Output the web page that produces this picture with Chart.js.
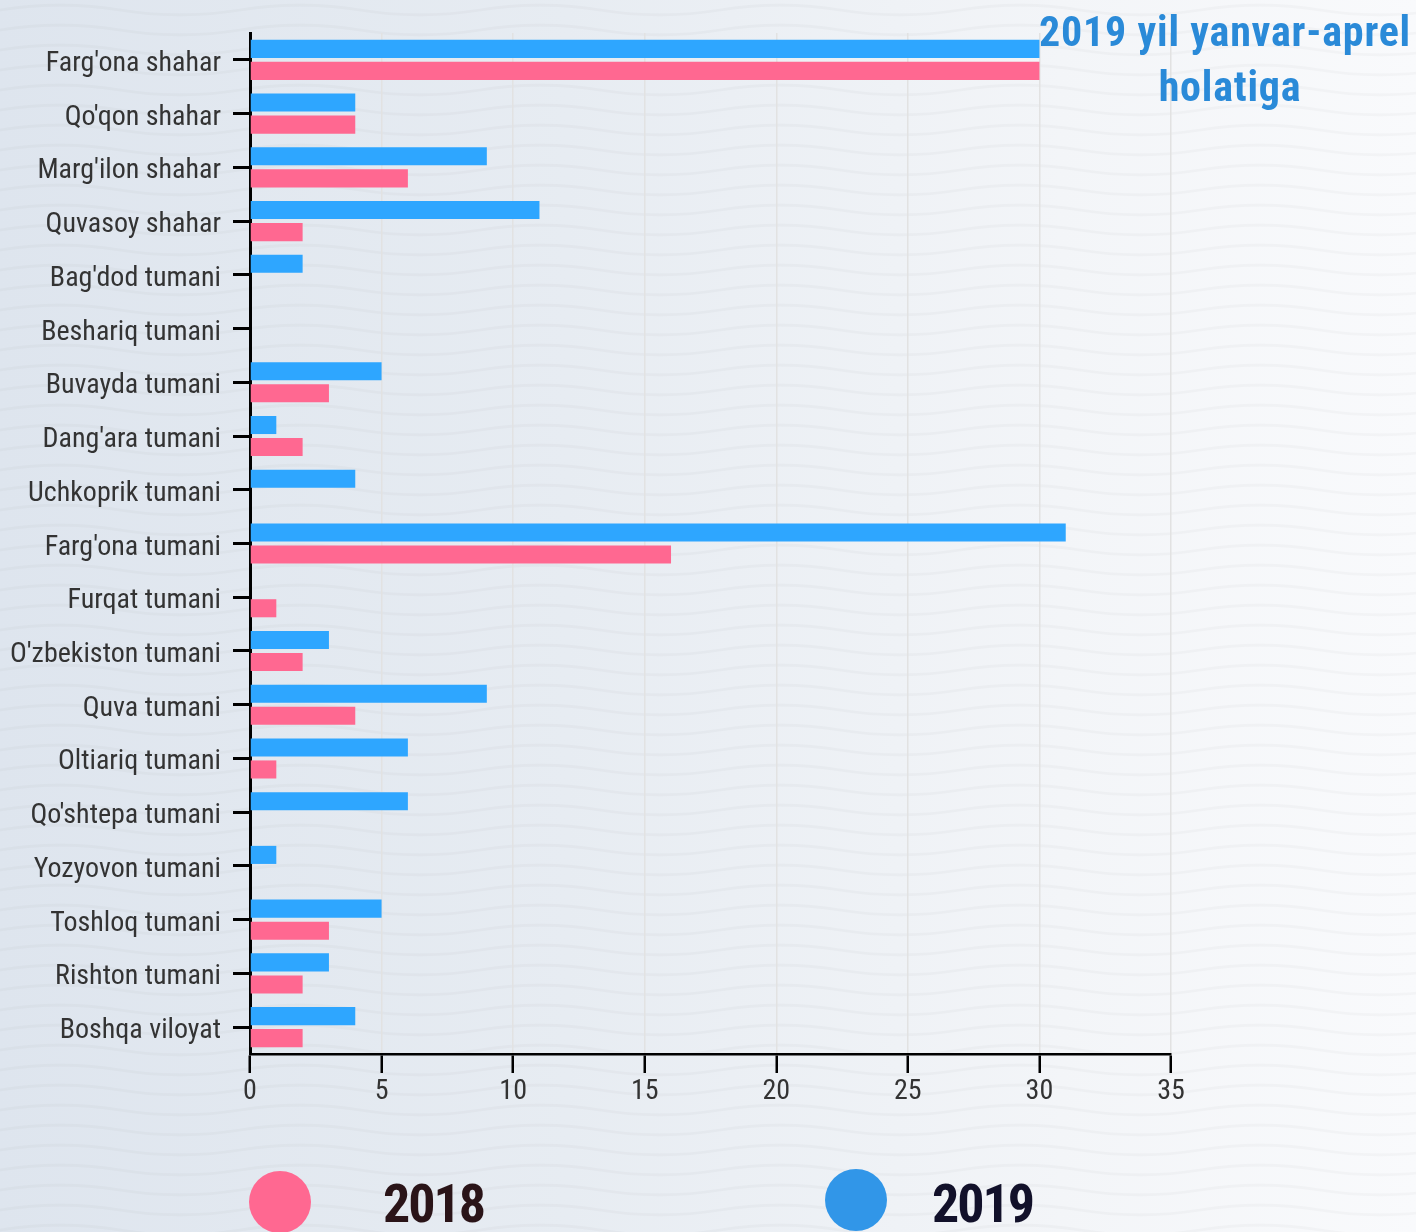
<!DOCTYPE html>
<html>
<head>
<meta charset="utf-8">
<script src="https://cdn.jsdelivr.net/npm/chart.js@4/dist/chart.umd.min.js"></script>
<style>
  html, body { margin: 0; padding: 0; }
  body {
    width: 1416px; height: 1232px; overflow: hidden;
    background-color: #e9edf3;
    background-image:
      url("data:image/svg+xml;utf8,<svg xmlns='http://www.w3.org/2000/svg' width='240' height='20'><path d='M-1 10.2 L0 10 C40 3.5 80 3.5 120 10 S200 16.5 240 10 L241 9.8' fill='none' stroke='rgba(0,0,0,0.024)' stroke-width='2.5'/></svg>"),
      linear-gradient(90deg, #dee5ee 0%, #e7ecf2 40%, #f3f5f8 75%, #f9fafc 100%);
    background-repeat: repeat, no-repeat;
  }
  canvas { display: block; }
</style>
</head>
<body>
<canvas id="c" width="1416" height="1232"></canvas>
<script>
const categories = [
  "Farg'ona shahar", "Qo'qon shahar", "Marg'ilon shahar", "Quvasoy shahar",
  "Bag'dod tumani", "Beshariq tumani", "Buvayda tumani", "Dang'ara tumani",
  "Uchkoprik tumani", "Farg'ona tumani", "Furqat tumani", "O'zbekiston tumani",
  "Quva tumani", "Oltiariq tumani", "Qo'shtepa tumani", "Yozyovon tumani",
  "Toshloq tumani", "Rishton tumani", "Boshqa viloyat"
];
const values2019 = [30, 4, 9, 11, 2, 0, 5, 1, 4, 31, 0, 3, 9, 6, 6, 1, 5, 3, 4];
const values2018 = [30, 4, 6, 2, 0, 0, 3, 2, 0, 16, 1, 2, 4, 1, 0, 0, 3, 2, 2];
const seriesNames = ["2019", "2018"];
const titleLines = ["2019 yil yanvar-aprel", "holatiga"];
const xTicks = [0, 5, 10, 15, 20, 25, 30, 35];

const COND = "'Roboto Condensed', 'Liberation Sans Narrow', 'DejaVu Sans Condensed', Roboto, sans-serif";

const overlay = {
  id: 'overlay',
  afterDraw(chart) {
    const ctx = chart.ctx;
    ctx.save();
    // title
    ctx.fillStyle = '#2a8ad8';
    ctx.font = "bold 42px " + COND;
    ctx.letterSpacing = '0.8px';
    ctx.textAlign = 'center';
    ctx.textBaseline = 'alphabetic';
    ctx.fillText(titleLines[0], 1225, 46);
    ctx.fillText(titleLines[1], 1230, 101);
    // legend
    const items = [
      { label: seriesNames[1], color: '#ff6891', cx: 280, cy: 1202, tx: 383, tc: '#2a1418' },
      { label: seriesNames[0], color: '#3196e8', cx: 856, cy: 1200, tx: 932, tc: '#12112a' }
    ];
    items.forEach(it => {
      ctx.beginPath();
      ctx.fillStyle = it.color;
      ctx.arc(it.cx, it.cy, 31, 0, Math.PI * 2);
      ctx.fill();
      ctx.fillStyle = it.tc;
      ctx.font = "bold 54px " + COND;
      ctx.letterSpacing = '-2px';
      ctx.textAlign = 'left';
      ctx.fillText(it.label, it.tx, 1222);
    });
    ctx.restore();
  }
};

new Chart(document.getElementById('c'), {
  type: 'bar',
  data: {
    labels: categories,
    datasets: [
      { label: seriesNames[0], data: values2019, backgroundColor: '#2ea6ff', borderWidth: 0 },
      { label: seriesNames[1], data: values2018, backgroundColor: '#ff6891', borderWidth: 0 }
    ]
  },
  options: {
    indexAxis: 'y',
    responsive: false,
    animation: false,
    devicePixelRatio: 1,
    categoryPercentage: 0.82,
    barPercentage: 0.82,
    layout: { padding: { top: 33, right: 245, bottom: 128, left: 0 } },
    plugins: {
      legend: { display: false },
      title: { display: false },
      tooltip: { enabled: false }
    },
    scales: {
      x: {
        min: 0, max: 35,
        afterBuildTicks(s) { s.ticks = xTicks.map(v => ({ value: v })); },
        afterFit(s) { s.height = 50; },
        grid: {
          color: '#e2e2e2', lineWidth: 1.5, drawOnChartArea: true, drawTicks: true,
          tickLength: 19, tickColor: '#000', tickWidth: 2.5
        },
        border: { display: true, color: '#000', width: 2.5 },
        ticks: {
          color: '#333', padding: 2,
          font: { family: COND, size: 28 }
        }
      },
      y: {
        afterFit(s) { s.width = 250; },
        grid: {
          offset: false, drawOnChartArea: false, drawTicks: true,
          tickLength: 17, tickColor: '#000', tickWidth: 3
        },
        border: { display: true, color: '#000', width: 3 },
        ticks: {
          color: '#333', padding: 12, autoSkip: false, labelOffset: 4,
          font: { family: COND, size: 28 }
        }
      }
    }
  },
  plugins: [overlay]
});
</script>
</body>
</html>
